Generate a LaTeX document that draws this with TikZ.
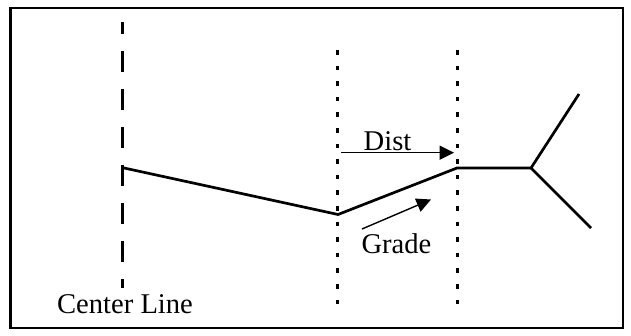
\documentclass[tikz,border=0pt]{standalone}
\usepackage{fontspec}
\setmainfont{Liberation Serif}
\usetikzlibrary{arrows.meta}

\begin{document}
\begin{tikzpicture}[x=0.5pt,y=-0.5pt,
  road/.style={line width=1.35pt,line join=round},
  cline/.style={line width=1.6pt,dash pattern=on 10.5pt off 8.5pt,dash phase=4.5pt},
  guide/.style={line width=1.5pt,dash pattern=on 2.3pt off 5.5pt},
  tip/.style={line width=0.7pt,-{Triangle[length=7.2pt,width=7pt]}},
  lbl/.style={font=\fontsize{14.3}{17}\selectfont,inner sep=0pt,anchor=base}]
\useasboundingbox (0,0) rectangle (631,336);
\draw[line width=1.2pt] (10.5,8) rectangle (623,328);
% center line and guides
\coordinate (cT) at (122.7,22);
\coordinate (cB) at (122.7,288);
\draw[cline] (cT) -- (cB);
\coordinate (gAT) at (337,50);
\coordinate (gAB) at (337,307);
\coordinate (gBT) at (457,50);
\coordinate (gBB) at (457,307);
\draw[guide] (gAT) -- (gAB);
\draw[guide] (gBT) -- (gBB);
% road profile
\coordinate (p0) at (122.7,167.7);
\coordinate (p1) at (338,214.5);
\coordinate (p2) at (457,168);
\coordinate (p3) at (531,168);
\coordinate (pU) at (579,94);
\coordinate (pD) at (591,228);
\draw[road] (p0) -- (p1) -- (p2) -- (p3) -- (pU);
\draw[road] (p3) -- (pD);
% labels
\node[lbl] (cl) at (125,313) {Center Line};
\node[lbl] (dist) at (387.5,151) {Dist};
\node[lbl] (grade) at (396.5,253) {Grade};
\coordinate (dA) at (341,152.7);
\coordinate (dB) at (454,152.7);
\draw[tip] (dA) -- (dB);
\coordinate (gA) at (362,229);
\coordinate (gB) at (431,199.5);
\draw[tip] (gA) -- (gB);
\end{tikzpicture}
\end{document}
